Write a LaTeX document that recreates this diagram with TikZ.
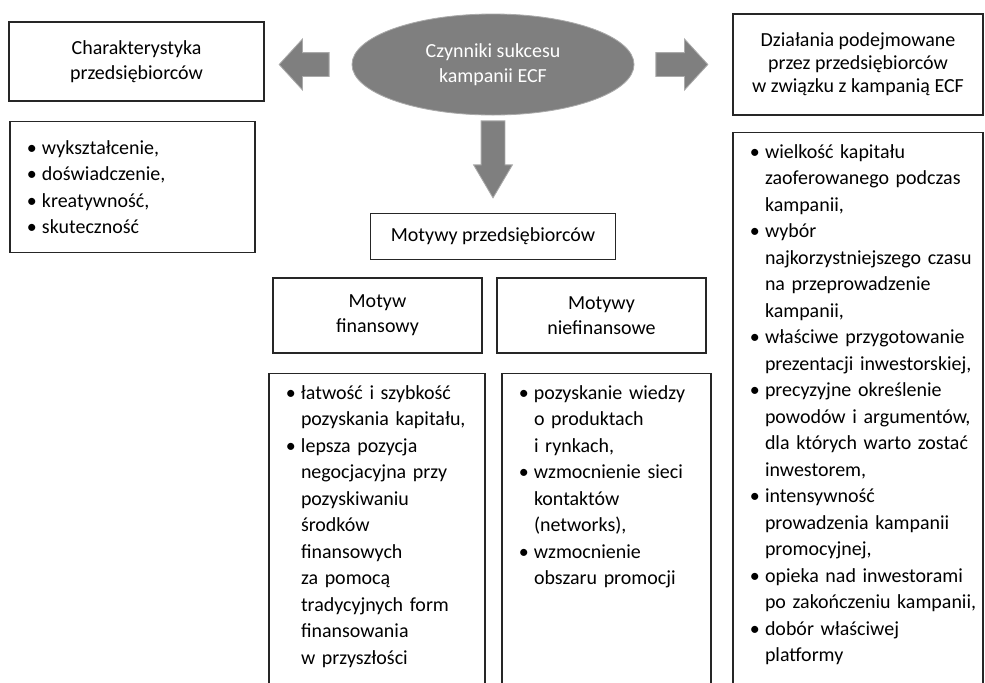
\documentclass[tikz,border=0pt]{standalone}
\usepackage{fontspec}
\setmainfont{Carlito}
\usetikzlibrary{positioning,shapes.geometric,shapes.arrows}
\definecolor{ecfgray}{RGB}{127,127,127}
\definecolor{rimgray}{RGB}{170,170,170}
\newcommand{\lbul}{\makebox[0.38cm][l]{•}}
\newcommand{\lind}{\hspace*{0.38cm}}

\begin{document}
\begin{tikzpicture}[
  font=\fontsize{14.2}{17.6}\selectfont,
  box/.style={draw=black!85, line width=1pt, fill=white, align=center, inner sep=2pt},
  head/.style={box, minimum height=1.975cm},
  listbox/.style={box, align=left, inner xsep=0.42cm, inner ysep=0.3cm, font=\fontsize{14.2}{18.85}\selectfont},
  ecf/.style={ellipse, draw=rimgray, fill=ecfgray, text=white, line width=0.6pt, align=center, minimum width=7.05cm, minimum height=2.525cm, inner sep=0pt},
  garrow/.style={single arrow, draw=rimgray, fill=ecfgray, line width=0.6pt, inner sep=0.2875cm, single arrow head indent=0pt}
]
\useasboundingbox (0,0) rectangle (24.625,-17.05);
\clip (0,0) rectangle (24.625,-17.05);

% Centre and block arrows
\node[ecf] (ecf) at (12.325,-1.6125) {Czynniki sukcesu\\kampanii ECF};

\node[garrow, shape border rotate=180, minimum height=1.25cm,
  single arrow head extend=0.3375cm, single arrow tip angle=95, left=0.55cm of ecf] (toleft) {};
\node[garrow, minimum height=1.3cm,
  single arrow head extend=0.3375cm, single arrow tip angle=95, right=0.525cm of ecf] (toright) {};
\node[garrow, shape border rotate=270, minimum height=1.925cm,
  single arrow head extend=0.1875cm, single arrow tip angle=61, below=0.125cm of ecf] (todown) {};

% Left column
\node[head, minimum width=6.375cm] (char) at (3.4125,-1.5375) {Charakterystyka\\przedsiębiorców};
\node[listbox, text width=5.285cm, minimum height=3.275cm, anchor=north west] (charlist)
  at ([xshift=0.025cm, yshift=-0.475cm]char.south west) {\lbul wykształcenie,\\
\lbul doświadczenie,\\
\lbul kreatywność,\\
\lbul skuteczność};

% Motives
\node[box, minimum width=6.125cm, minimum height=1.15cm, below=0.35cm of todown] (motywy) {Motywy przedsiębiorców};

\node[head, minimum width=5.225cm, minimum height=1.875cm] (fin) at (9.4375,-7.8875) {Motyw\\finansowy};
\node[head, minimum width=5.225cm, minimum height=1.875cm] (niefin) at (15.0375,-7.8875) {Motywy\\niefinansowe};

\node[listbox, text width=4.56cm, text depth=10cm, anchor=north] (finlist)
  at ([xshift=-0.0125cm, yshift=-0.475cm]fin.south) {\lbul\mbox{łatwość i szybkość}\\
\lind\mbox{pozyskania kapitału,}\\
\lbul lepsza pozycja\\
\lind\mbox{negocjacyjna przy}\\
\lind pozyskiwaniu\\
\lind środków\\
\lind finansowych\\
\lind za pomocą\\
\lind\mbox{tradycyjnych form}\\
\lind finansowania\\
\lind w przyszłości};

\node[listbox, text width=4.385cm, text depth=10cm, anchor=north] (niefinlist)
  at ([xshift=0.125cm, yshift=-0.475cm]niefin.south) {\lbul\mbox{pozyskanie wiedzy}\\
\lind o produktach\\
\lind i rynkach,\\
\lbul\mbox{wzmocnienie sieci}\\
\lind kontaktów\\
\lind (networks),\\
\lbul wzmocnienie\\
\lind\mbox{obszaru promocji}};

% Right column
\node[head, minimum width=6.25cm, minimum height=2.525cm, font=\fontsize{14.2}{16.4}\selectfont] (dzial) at (21.45,-1.6125)
  {Działania podejmowane\\przez przedsiębiorców\\w związku z kampanią ECF};
\node[listbox, text width=5.41cm, text depth=14cm, anchor=north west] (dziallist)
  at ([yshift=-0.4cm]dzial.south west) {\lbul wielkość kapitału\\
\lind\mbox{zaoferowanego podczas}\\
\lind kampanii,\\
\lbul wybór\\
\lind\mbox{najkorzystniejszego czasu}\\
\lind\mbox{na przeprowadzenie}\\
\lind kampanii,\\
\lbul\mbox{właściwe przygotowanie}\\
\lind\mbox{prezentacji inwestorskiej,}\\
\lbul\mbox{precyzyjne określenie}\\
\lind\mbox{powodów i argumentów,}\\
\lind\mbox{dla których warto zostać}\\
\lind inwestorem,\\
\lbul intensywność\\
\lind\mbox{prowadzenia kampanii}\\
\lind promocyjnej,\\
\lbul\mbox{opieka nad inwestorami}\\
\lind\mbox{po zakończeniu kampanii,}\\
\lbul dobór właściwej\\
\lind platformy};

\end{tikzpicture}
\end{document}
